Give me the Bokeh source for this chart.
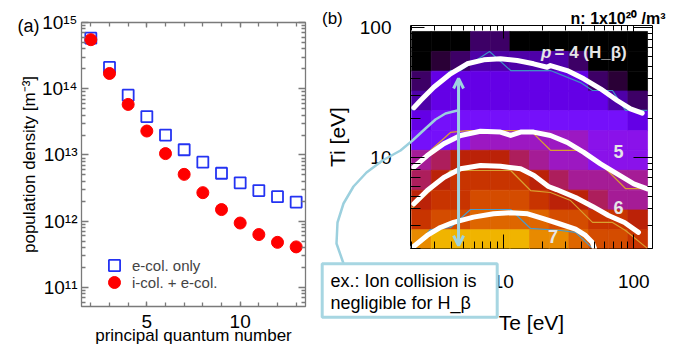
import numpy as np
from bokeh.plotting import figure
from bokeh.models import (FixedTicker, LinearAxis, LogAxis, CustomJSTickFormatter, Legend, LegendItem,
                          Label, Arrow, OpenHead, LinearColorMapper, ColumnDataSource, Range1d)
from bokeh.core.properties import value
from bokeh.embed import file_html
from bokeh.resources import INLINE

FONT = "Liberation Sans"

# ---------------- panel (a) data
quantum_n = [2, 3, 4, 5, 6, 7, 8, 9, 10, 11, 12, 13]
pop_e_col_only = [5.8e14, 2.1e14, 8.0e13, 3.8e13, 2.0e13, 1.2e13, 7.8e12, 5.3e12, 3.8e12, 2.9e12, 2.35e12, 1.95e12]
pop_i_plus_e_col = [5.5e14, 1.7e14, 5.8e13, 2.3e13, 1.05e13, 5.1e12, 2.7e12, 1.5e12, 9.4e11, 6.3e11, 4.8e11, 4.1e11]
legend_labels = ["e-col. only", "i-col. + e-col."]
a_x_ticks = [5, 10]
a_x_minor = [2, 3, 4, 5, 6, 7, 8, 9, 10, 11, 12, 13]
a_y_decades = [11, 12, 13, 14, 15]

# ---------------- panel (b) data
te_edges = [1.99, 2.81, 3.97, 5.62, 7.95, 11.25, 15.9, 22.5, 31.8, 45.0, 63.7, 90.1, 127.4]
ti_edges = [1.95, 2.77, 3.93, 5.58, 7.93, 11.3, 16.0, 22.8, 32.3, 45.9, 65.2, 92.7]
# colour level of each cell, rows from top (high Ti) to bottom (low Ti)
heat_levels = [
    [0, 0, 0, 2, 2, 0, 0, 0, 0, 0, 0, 0],
    [0, 1, 2, 3, 3, 3, 3, 3, 2, 0, 0, 0],
    [2, 4, 4, 4, 4, 4, 4, 4, 4, 2, 1, 0],
    [3, 4, 4, 4, 4, 4, 4, 4, 4, 4, 3, 2],
    [4, 5, 5, 5, 5, 5, 5, 5, 5, 5, 5, 4],
    [5, 5, 6, 7, 7, 7, 7, 7, 7, 6, 6, 6],
    [8, 9, 10, 10, 10, 9, 8, 7, 7, 6, 6, 6],
    [9, 10, 11, 11, 11, 11, 10, 9, 8, 8, 8, 8],
    [10, 11, 11, 12, 12, 12, 11, 10, 10, 9, 8, 8],
    [11, 12, 12, 13, 13, 13, 13, 12, 12, 11, 11, 10],
    [14, 15, 15, 15, 15, 15, 14, 14, 13, 12, 12, 11],
]
heat_palette = ["#000000", "#2a0036", "#3d0066", "#4e00a8", "#6400e6", "#7510fa", "#8a12ea", "#9c18c2",
                "#a51c96", "#ad1e5c", "#bb2208", "#c83400", "#d44c00", "#de6600", "#e88a00", "#f0b400"]

p4_te = [2.07, 2.33, 2.94, 3.95, 5.30, 7.10, 9.53, 12.8, 17.1, 21.7, 23.0, 30.9, 41.4, 55.6, 74.6, 94.4, 116]
p4_ti = [24.0, 27.3, 34.5, 43.8, 52.3, 56.1, 57.1, 55.5, 52.3, 49.2, 50.7, 46.4, 40.1, 33.6, 27.3, 23.5, 21.8]
p5_te = [2.07, 2.62, 3.51, 4.71, 6.70, 9.53, 11.4, 13.6, 17.1, 23.0, 30.9, 41.4, 55.6, 74.6, 100, 127]
p5_ti = [8.38, 10.3, 12.7, 14.7, 15.85, 15.6, 14.7, 15.6, 15.6, 14.7, 13.0, 10.9, 8.89, 7.45, 6.24, 5.71]
p6_te = [2.07, 2.62, 3.51, 4.71, 6.70, 9.53, 13.6, 17.2, 22.2, 25.6, 35.8, 48.3, 64.0, 84.9, 108.6]
p6_ti = [4.38, 5.54, 6.98, 8.14, 8.64, 8.53, 8.14, 7.23, 5.95, 5.64, 4.90, 4.18, 3.56, 3.15, 2.64]
p7_te = [2.02, 2.62, 3.31, 4.16, 5.92, 8.43, 11.4, 15.4, 20.0, 26.5, 35.8, 42.7, 48.0, 50.0]
p7_ti = [2.02, 2.50, 2.88, 3.15, 3.46, 3.67, 3.74, 3.67, 3.38, 3.09, 2.80, 2.50, 2.22, 1.99]

# thin step contours of the grid
c4_te = [1.99, 2.78, 3.95, 4.71, 7.86, 11.4, 23.0, 39.1, 48.3, 68.7, 86.4, 127]
c4_ti = [22.9, 32.6, 46.4, 46.4, 65.0, 46.4, 46.4, 37.5, 32.6, 32.6, 22.9, 22.9]
c5_te = [1.99, 2.78, 3.95, 5.33, 16.2, 23.0, 37.7, 57.6, 86.4, 127]
c5_ti = [7.90, 11.3, 15.5, 16.0, 16.0, 11.3, 11.3, 8.64, 5.74, 5.74]
c6_te = [1.99, 2.78, 3.95, 11.4, 16.2, 23.0, 32.8, 48.3, 68.7, 86.4, 127]
c6_ti = [4.03, 5.54, 7.90, 7.90, 5.54, 5.35, 4.64, 3.15, 3.15, 2.73, 1.99]
c7_te = [1.99, 2.78, 3.95, 5.62, 11.4, 16.2, 27.5, 35.8, 48.3]
c7_ti = [1.92, 2.78, 2.88, 3.96, 3.96, 2.83, 2.73, 2.64, 1.99]

arrow_te = 4.55
arrow_ti = [2.09, 40.3]

# ================= panel (a)
AX0, AX1 = 1.5, 13.5
AY0, AY1 = 10.713, 15.0

p1 = figure(width=318, height=344, x_range=(AX0, AX1), y_range=(10 ** AY0, 10 ** AY1),
            y_axis_type="log", output_backend="svg", toolbar_location=None,
            min_border_left=81, min_border_right=13, min_border_top=22, min_border_bottom=38)
p1.styles = {"position": "absolute", "left": "0px", "top": "0px"}
p1.grid.visible = False
p1.outline_line_color = "#7a7a7a"
p1.outline_line_width = 1.3
p1.border_fill_color = "white"

sup_js = """
const s = {"0":"\u2070","1":"\u00b9","2":"\u00b2","3":"\u00b3","4":"\u2074","5":"\u2075","6":"\u2076","7":"\u2077","8":"\u2078","9":"\u2079","-":"\u207b"};
const e = Math.round(Math.log10(tick));
return "10" + String(e).split("").map(function(c){return s[c];}).join("");
"""

a_y_minor = [k * 10.0 ** d for d in range(a_y_decades[0] - 1, a_y_decades[-1]) for k in range(2, 10)]
xt1 = FixedTicker(ticks=a_x_ticks, minor_ticks=a_x_minor)
yt1 = FixedTicker(ticks=[10.0 ** d for d in a_y_decades], minor_ticks=a_y_minor)

GREY = "#7a7a7a"
blank_fmt = CustomJSTickFormatter(code="return ' ';")


def style_axis(ax, maj_in, min_in, color, width, labels=True, font_size="19px", standoff=4):
    ax.axis_line_color = None
    ax.major_tick_in = maj_in
    ax.major_tick_out = 0
    ax.minor_tick_in = min_in
    ax.minor_tick_out = 0
    ax.major_tick_line_color = color
    ax.minor_tick_line_color = color
    ax.major_tick_line_width = width
    ax.minor_tick_line_width = width
    ax.major_label_text_font = FONT
    ax.major_label_text_color = "black"
    ax.major_label_standoff = standoff
    ax.axis_label_text_font = FONT
    ax.axis_label_text_font_style = "normal"
    ax.axis_label_text_color = "black"
    if labels:
        ax.major_label_text_font_size = font_size
    else:
        ax.formatter = blank_fmt
        ax.major_label_text_font_size = "2px"
        ax.major_label_standoff = 0


bx = p1.xaxis[0]
bx.ticker = xt1
style_axis(bx, 5, 4, GREY, 1.3, standoff=8)

ly = p1.yaxis[0]
ly.ticker = yt1
ly.formatter = CustomJSTickFormatter(code=sup_js)
style_axis(ly, 7, 4, GREY, 1.3, standoff=4)

tx = LinearAxis(ticker=xt1)
style_axis(tx, 5, 4, GREY, 1.3, labels=False)
p1.add_layout(tx, "above")
ry_ = LogAxis(ticker=yt1)
style_axis(ry_, 7, 4, GREY, 1.3, labels=False)
p1.add_layout(ry_, "right")

r_sq = p1.scatter(quantum_n, pop_e_col_only, marker="square", size=11, fill_color=None,
                  line_color="#2433f2", line_width=1.8)
r_ci = p1.scatter(quantum_n, pop_i_plus_e_col, marker="circle", size=12,
                  fill_color="#ff0000", line_color="#ff0000")

for lab, rend, gsz, loc, so in [(legend_labels[0], r_sq, 28, (19, 27), 4),
                                (legend_labels[1], r_ci, 30, (18, 9), 3)]:
    lg = Legend(items=[LegendItem(label=lab, renderers=[rend])], location=loc,
                glyph_width=gsz, glyph_height=gsz, label_standoff=so, padding=0, margin=0,
                border_line_color=None, background_fill_alpha=0,
                label_text_font=FONT, label_text_font_size="15px")
    p1.add_layout(lg, "center")

# ================= panel (b)
p2 = figure(width=360, height=344, x_axis_type="log", y_axis_type="log",
            x_range=(10 ** 0.2902, 10 ** 2.1432), y_range=(10 ** 0.2977, 10 ** 2.0131),
            output_backend="svg", toolbar_location=None,
            min_border_left=92, min_border_right=26, min_border_top=25, min_border_bottom=96)
p2.styles = {"position": "absolute", "left": "318px", "top": "0px"}
p2.grid.visible = False
p2.outline_line_color = "black"
p2.outline_line_width = 1
p2.border_fill_color = "white"

nrow = len(heat_levels)
Lq, Rq, Bq, Tq, Vq = [], [], [], [], []
for r, vals in enumerate(heat_levels):
    i = nrow - 1 - r
    for c, v in enumerate(vals):
        Lq.append(te_edges[c]); Rq.append(te_edges[c + 1])
        Bq.append(ti_edges[i]); Tq.append(ti_edges[i + 1]); Vq.append(v)
src = ColumnDataSource(dict(l=Lq, r=Rq, b=Bq, t=Tq, lev=Vq))
mapper = LinearColorMapper(palette=heat_palette, low=-0.5, high=len(heat_palette) - 0.5)
p2.quad(left="l", right="r", bottom="b", top="t", source=src,
        fill_color={"field": "lev", "transform": mapper},
        line_color={"field": "lev", "transform": mapper}, line_width=0.7)

for te, ti, col in [(c4_te, c4_ti, "#3d8fc4"), (c5_te, c5_ti, "#d9a030"),
                    (c6_te, c6_ti, "#d9a030"), (c7_te, c7_ti, "#4a9ac8")]:
    p2.line(te, ti, line_color=col, line_width=1.2)

for te, ti in [(p4_te, p4_ti), (p5_te, p5_ti), (p6_te, p6_ti), (p7_te, p7_ti)]:
    p2.line(te, ti, line_color="white", line_width=5, line_cap="round", line_join="round")

ACOL = "#9fd3e0"
p2.add_layout(Arrow(start=OpenHead(size=10, line_color=ACOL, line_width=3),
                    end=OpenHead(size=10, line_color=ACOL, line_width=3),
                    x_start=arrow_te, y_start=arrow_ti[0], x_end=arrow_te, y_end=arrow_ti[1],
                    line_color=ACOL, line_width=3))

xt2 = FixedTicker(ticks=[10, 100], minor_ticks=[2, 3, 4, 5, 6, 7, 8, 9, 20, 30, 40, 50, 60, 70, 80, 90, 200])
yt2 = FixedTicker(ticks=[10, 100], minor_ticks=[2, 3, 4, 5, 6, 7, 8, 9, 20, 30, 40, 50, 60, 70, 80, 90])
fmt2 = CustomJSTickFormatter(code="return Math.round(tick).toString();")

bx2 = p2.xaxis[0]
bx2.ticker = xt2
bx2.formatter = fmt2
style_axis(bx2, 14, 7, "black", 1, standoff=26)
bx2.axis_label = "Te [eV]"
bx2.axis_label_text_font_size = "21px"
bx2.axis_label_standoff = 20

ly2 = p2.yaxis[0]
ly2.ticker = yt2
ly2.formatter = fmt2
style_axis(ly2, 14, 10, "black", 1, standoff=19)
ly2.axis_label = "Ti [eV]"
ly2.axis_label_text_font_size = "21px"
ly2.axis_label_standoff = 8

tx2 = LogAxis(ticker=xt2)
style_axis(tx2, 13, 5, "black", 1, labels=False)
p2.add_layout(tx2, "above")
rx2 = LogAxis(ticker=yt2)
style_axis(rx2, 19, 5, "black", 1, labels=False)
p2.add_layout(rx2, "right")


# in-frame labels of panel (b), placed by page pixel
def b_x(px):
    return 10 ** (0.2902 + (px - 410.0) / 242.0 * (2.1432 - 0.2902))


def b_y(py):
    return 10 ** (2.0131 - (py - 25.0) / 223.0 * (2.0131 - 0.2977))


LBL = "#e6e6e6"
p2.add_layout(Label(x=b_x(540.5), y=b_y(51.7), text="p", text_font=FONT, text_font_size="17px",
                    text_font_style="bold italic", text_color=LBL, text_align="left", text_baseline="middle"))
p2.add_layout(Label(x=b_x(554), y=b_y(51.7), text="= 4 (H_\u03b2)", text_font=FONT, text_font_size="17px",
                    text_font_style="bold", text_color=LBL, text_align="left", text_baseline="middle"))
for t, px, py in [("5", 618, 150.5), ("6", 618, 207), ("7", 552.5, 236)]:
    p2.add_layout(Label(x=b_x(px), y=b_y(py), text=t, text_font=FONT, text_font_size="18px",
                        text_font_style="bold", text_color=LBL, text_align="center", text_baseline="middle"))

# ================= overlay (page pixel coordinates) for texts and callout outside the frames
ov = figure(width=678, height=344, x_range=Range1d(0, 678), y_range=Range1d(344, 0),
            x_axis_location=None, y_axis_location=None, min_border=0, toolbar_location=None,
            output_backend="svg", background_fill_alpha=0, border_fill_alpha=0, outline_line_color=None)
ov.styles = {"position": "absolute", "left": "0px", "top": "0px"}
ov.grid.visible = False


def ov_text(x, y, t, size, align="left", baseline="middle", style="normal", angle=0.0):
    ov.text(x=[x], y=[y], text=[t], text_font=value(FONT), text_font_size=size, text_align=align,
            text_baseline=baseline, text_font_style=style, angle=angle, text_color="black")


ov_text(17, 25, "(a)", "18px")
ov_text(29, 164, "population density [m\u207b\u00b3]", "17px", align="center", angle=np.pi / 2)
ov_text(193, 335, "principal quantum number", "17px", align="center")
ov_text(321.5, 17.5, "(b)", "17px")
ov_text(665, 17.5, "n: 1x10\u00b2\u2070 /m\u00b3", "16px", align="right", style="bold")

curve_px = [(343, 263), (336, 243), (337, 222), (343, 203), (353, 186), (366, 172), (382, 160),
            (400, 150), (412, 140), (425, 128), (435, 119), (445, 113), (457, 110)]
ov.line([x for x, _ in curve_px], [y for _, y in curve_px], line_color="#9cd0de", line_width=2.5,
        line_join="round")
ov.quad(left=[321.7], right=[496.7], top=[263.3], bottom=[316.7], fill_color="white",
        line_color="#a7d6e2", line_width=3)
ov_text(330, 280.5, "ex.: Ion collision is", "18px")
ov_text(330, 302, "negligible for H_\u03b2", "18px")

open("out.html", "w").write(file_html([p1, p2, ov], INLINE))
